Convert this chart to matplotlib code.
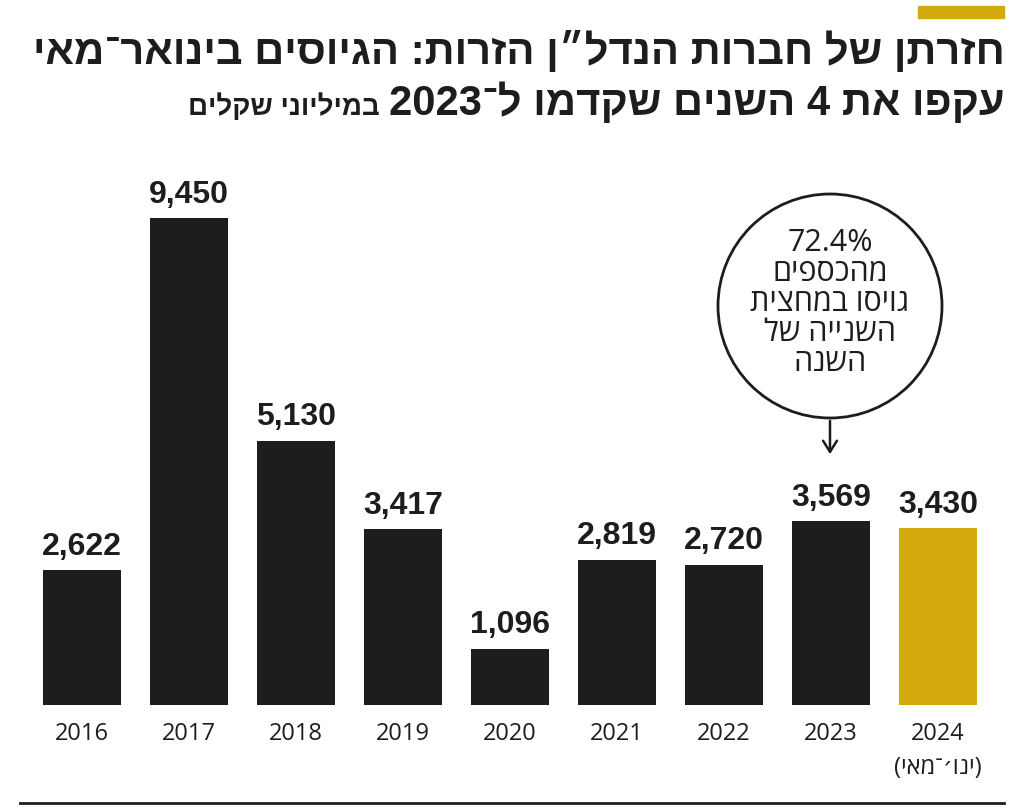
import re
import matplotlib
matplotlib.use("Agg")
import matplotlib.pyplot as plt
from matplotlib.patches import Circle, Rectangle

years = ["2016", "2017", "2018", "2019", "2020", "2021", "2022", "2023", "2024"]
values = [2622, 9450, 5130, 3417, 1096, 2819, 2720, 3569, 3430]
value_labels = ["2,622", "9,450", "5,130", "3,417", "1,096", "2,819", "2,720", "3,569", "3,430"]
sub_label_2024 = "(ינו׳־מאי)"
title_1 = "חזרתן של חברות הנדל״ן הזרות: הגיוסים בינואר־מאי"
title_2 = "עקפו את 4 השנים שקדמו ל־2023"
title_unit = "במיליוני שקלים"
note_lines = ["72.4%", "מהכספים", "גויסו במחצית", "השנייה של", "השנה"]

BLACK = "#1d1d1b"
GOLD = "#d3a90c"
FONT = ["Liberation Sans", "DejaVu Sans"]
FONT_R = ["Open Sans", "DejaVu Sans"]


def rtl(s):
    # matplotlib has no bidi: flip Hebrew runs, keep number runs in place
    num = r"[0-9][0-9.,%]*"
    parts = re.split("(" + num + ")", s)
    out = []
    for p in reversed(parts):
        if re.fullmatch(num, p or ""):
            out.append(p)
        else:
            out.append(p[::-1].translate(str.maketrans("()", ")(")))
    return "".join(out)


W, H = 1024, 810
fig = plt.figure(figsize=(W / 100, H / 100), dpi=100)

# chart axes: baseline at y=705px, spacing 107px, first bar centre at x=82px
base_px, top_px = 705, 150
ax = fig.add_axes([0, 1 - base_px / H, 1, (base_px - top_px) / H])
step = 107
ax.set_xlim(-82 / step, (W - 82) / step)
ax.set_ylim(0, 9450 * (base_px - top_px) / (base_px - 218))
ax.axis("off")

x = list(range(len(years)))
colors = [BLACK] * (len(years) - 1) + [GOLD]
ax.bar(x, values, width=78 / step, color=colors)
for xi, v, lab in zip(x, values, value_labels):
    ax.annotate(lab, (xi, v), xytext=(0, 6), textcoords="offset points",
                ha="center", va="bottom", fontsize=23, fontweight="bold",
                family=FONT, color=BLACK)
for xi, yr in zip(x, years):
    ax.annotate(yr, (xi, 0), xytext=(0, -12), textcoords="offset points",
                ha="center", va="top", fontsize=17, family=FONT_R, color=BLACK)
ax.annotate(rtl(sub_label_2024), (x[-1], 0), xytext=(0, -37), textcoords="offset points",
            ha="center", va="top", fontsize=17, family=FONT_R, color=BLACK)

# overlay in pixel units for title and decorations
ov = fig.add_axes([0, 0, 1, 1], facecolor="none")
ov.set_xlim(0, W)
ov.set_ylim(H, 0)
ov.axis("off")

ov.add_patch(Rectangle((918, 6), 86, 12, color=GOLD))
ov.plot([20, 1004], [803, 803], color=BLACK, lw=2)

t1 = ov.text(1005, 52, rtl(title_1), ha="right", va="center", fontsize=36,
             fontweight="bold", family=FONT, color=BLACK)
fig.canvas.draw()
# shrink title to the reference width (30..1005 px)
w1 = t1.get_window_extent().width
tsize = 36 * 975 / w1
t1.set_fontsize(tsize)
t2 = ov.text(1005, 103, rtl(title_2), ha="right", va="center", fontsize=tsize,
             fontweight="bold", family=FONT, color=BLACK)
fig.canvas.draw()
bb = t2.get_window_extent()
ov.text(bb.x0 - 10, 107, rtl(title_unit), ha="right", va="center", fontsize=20,
        fontweight="bold", family=FONT, color=BLACK)

cx, cy, r = 830, 306, 112
ov.add_patch(Circle((cx, cy), r, fill=False, ec=BLACK, lw=2))
ov.annotate("", xy=(cx, 457), xytext=(cx, cy + r),
            arrowprops=dict(arrowstyle="->,head_length=0.8,head_width=0.5", lw=1.8, color=BLACK))
for i, line in enumerate(note_lines):
    ov.text(cx, 243 + i * 30, rtl(line), ha="center", va="center", fontsize=22,
            family=FONT_R, color=BLACK)

fig.savefig("out.png", dpi=100)
